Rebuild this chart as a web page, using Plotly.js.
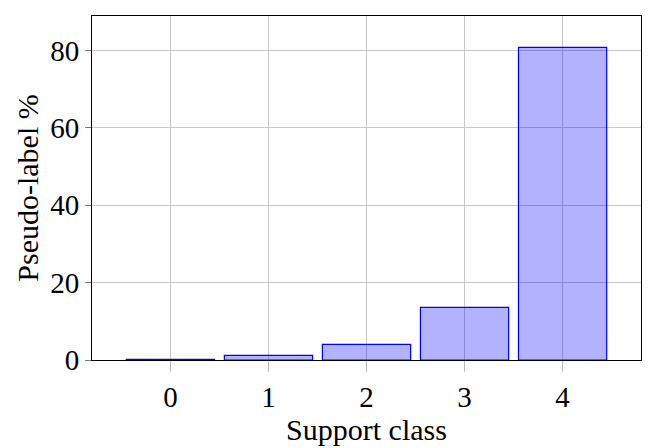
<!DOCTYPE html>
<html><head><meta charset="utf-8">
<script src="https://cdn.plot.ly/plotly-3.0.1.min.js"></script>
<style>html,body{margin:0;padding:0;background:#fff;}</style>
</head><body>
<div id="chart" style="width:656px;height:448px;"></div>
<script>
const categories = [0, 1, 2, 3, 4];
const values = [0.2, 1.2, 4.05, 13.6, 80.8];
const yTicks = [0, 20, 40, 60, 80];

const fam = 'Liberation Serif, Times New Roman, serif';
const f = (s) => ({family: fam, size: s, color: '#000'});
Plotly.newPlot('chart', [{
  type: 'bar', x: categories, y: values, width: 0.9,
  marker: {color: 'rgba(0,0,255,0.3)', line: {color: 'rgb(0,0,255)', width: 1.2}},
  hoverinfo: 'none'
}], {
  width: 656, height: 448,
  margin: {l: 92, r: 15, t: 16, b: 88},
  paper_bgcolor: '#fff', plot_bgcolor: '#fff',
  showlegend: false,
  font: f(29),
  xaxis: {
    range: [-0.8, 4.8], tickvals: categories, ticktext: categories.map(String),
    showgrid: true, gridcolor: 'rgb(200,200,200)', gridwidth: 1,
    ticks: 'outside', ticklen: 11, tickcolor: 'rgb(190,190,190)',
    showline: true, linecolor: '#000', linewidth: 1, mirror: true,
    zeroline: false, layer: 'above traces',
    tickfont: f(29),
    title: {text: 'Support class', font: f(30), standoff: 4}
  },
  yaxis: {
    range: [0, 88.9], tickvals: yTicks,
    showgrid: true, gridcolor: 'rgb(200,200,200)', gridwidth: 1,
    ticks: 'outside', ticklen: 6, tickcolor: 'rgb(120,120,120)',
    showline: true, linecolor: '#000', linewidth: 1, mirror: true,
    zeroline: false, layer: 'above traces',
    tickfont: f(29),
    title: {text: 'Pseudo-label %', font: f(30), standoff: 2}
  }
}, {staticPlot: true});
</script>
</body></html>
